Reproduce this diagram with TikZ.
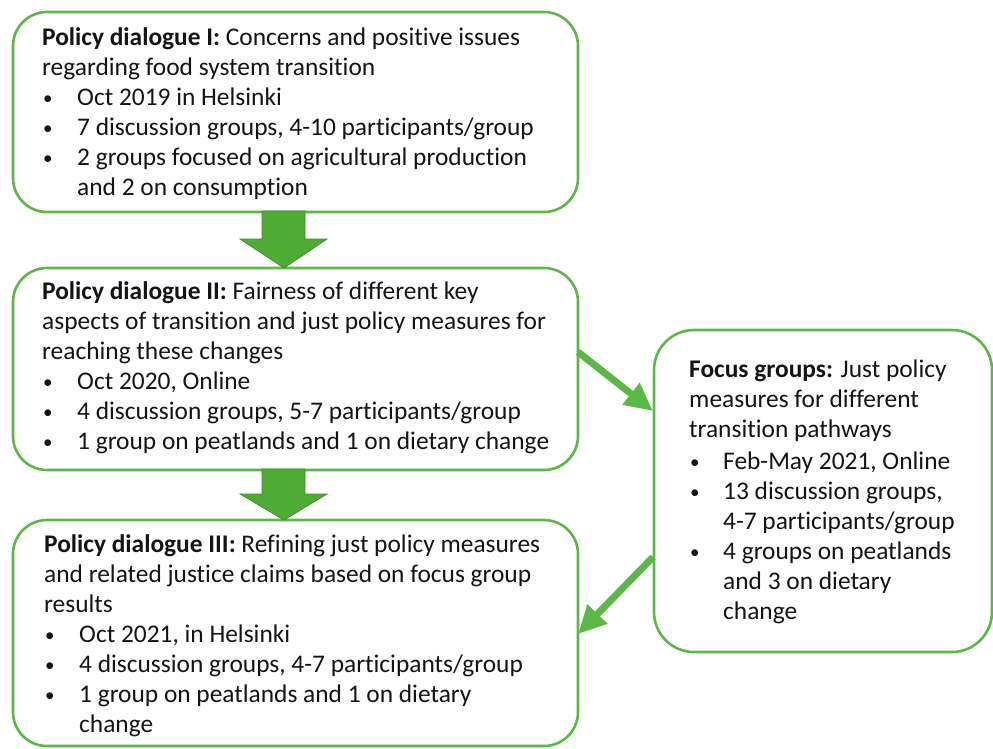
\documentclass[tikz,border=0pt]{standalone}
\usepackage{fontspec}
\setmainfont{Carlito}[Ligatures={NoCommon,NoContextual}]
\usetikzlibrary{arrows.meta}
\definecolor{gbord}{RGB}{92,184,70}
\definecolor{gfill}{RGB}{78,172,52}
\definecolor{gedge}{RGB}{62,142,40}
\definecolor{txt}{RGB}{20,20,20}
\newcommand\Ln[4]{\node[ln] (#1) at (#2,#3) {#4};}
\newcommand\Bu[3]{\node[ln,font=\fontsize{19}{30}\selectfont] (#1) at (#2+1,#3-1) {•};}
\begin{document}
\begin{tikzpicture}[x=1pt,y=-1pt,
  box/.style={draw=gbord,line width=2.6pt,rounded corners=34pt,fill=white},
  ln/.style={anchor=base west,inner sep=0pt,text=txt,font=\fontsize{25.4}{30}\selectfont},
  blk/.style={fill=gfill,draw=gedge,line width=0.8pt},
  diag/.style={draw=gbord,line width=7pt,-{Triangle[length=28pt,width=26pt]}}]
\useasboundingbox (0,0) rectangle (993,748);
% boxes
\node[box,minimum width=565pt,minimum height=200pt] (b1) at (295.5,112) {};
\node[box,minimum width=565pt,minimum height=202pt] (b2) at (295.5,369) {};
\node[box,minimum width=565pt,minimum height=226pt] (b3) at (295.5,633) {};
\node[box,minimum width=338pt,minimum height=322pt,rounded corners=40pt] (b4) at (823,491) {};
% block arrows
\filldraw[blk] (262,211) -- (305,211) -- (305,239) -- (327,239) -- (284,268) -- (240,239) -- (262,239) -- cycle;
\filldraw[blk] (262,469) -- (305,469) -- (305,494) -- (327,494) -- (284,520) -- (240,494) -- (262,494) -- cycle;
% diagonal arrows
\coordinate (a1s) at (578,352);
\coordinate (a1e) at (653,411);
\coordinate (a2s) at (653,557);
\coordinate (a2e) at (578,634);
\draw[diag] (a1s) -- (a1e);
\draw[diag] (a2s) -- (a2e);
% box 1 text
\Ln{t11}{42}{45}{\textbf{Policy dialogue I:} Concerns and positive issues}
\Ln{t12}{42}{75}{regarding food system transition}
\Bu{u13}{42}{105}\Ln{t13}{77}{105}{Oct 2019 in Helsinki}
\Bu{u14}{42}{135}\Ln{t14}{77}{135}{7 discussion groups, 4-10 participants/group}
\Bu{u15}{42}{165}\Ln{t15}{77}{165}{2 groups focused on agricultural production}
\Ln{t16}{77}{195}{and 2 on consumption}
% box 2 text
\Ln{t21}{42}{299}{\textbf{Policy dialogue II:} Fairness of different key}
\Ln{t22}{42}{329}{aspects of transition and just policy measures for}
\Ln{t23}{42}{359}{reaching these changes}
\Bu{u24}{42}{389}\Ln{t24}{77}{389}{Oct 2020, Online}
\Bu{u25}{42}{419}\Ln{t25}{77}{419}{4 discussion groups, 5-7 participants/group}
\Bu{u26}{42}{449}\Ln{t26}{77}{449}{1 group on peatlands and 1 on dietary change}
% box 3 text
\Ln{t31}{44}{552}{\textbf{Policy dialogue III:} Refining just policy measures}
\Ln{t32}{44}{582}{and related justice claims based on focus group}
\Ln{t33}{44}{612}{results}
\Bu{u34}{44}{642}\Ln{t34}{79}{642}{Oct 2021, in Helsinki}
\Bu{u35}{44}{672}\Ln{t35}{79}{672}{4 discussion groups, 4-7 participants/group}
\Bu{u36}{44}{702}\Ln{t36}{79}{702}{1 group on peatlands and 1 on dietary}
\Ln{t37}{79}{732}{change}
% box 4 text
\Ln{t41}{689}{377}{\textbf{Focus groups:} Just policy}
\Ln{t42}{689}{407}{measures for different}
\Ln{t43}{689}{437}{transition pathways}
\Bu{u44}{689}{469}\Ln{t44}{723}{469}{Feb-May 2021, Online}
\Bu{u45}{689}{499}\Ln{t45}{723}{499}{13 discussion groups,}
\Ln{t46}{723}{529}{4-7 participants/group}
\Bu{u47}{689}{559}\Ln{t47}{723}{559}{4 groups on peatlands}
\Ln{t48}{723}{589}{and 3 on dietary}
\Ln{t49}{723}{619}{change}
\end{tikzpicture}
\end{document}
